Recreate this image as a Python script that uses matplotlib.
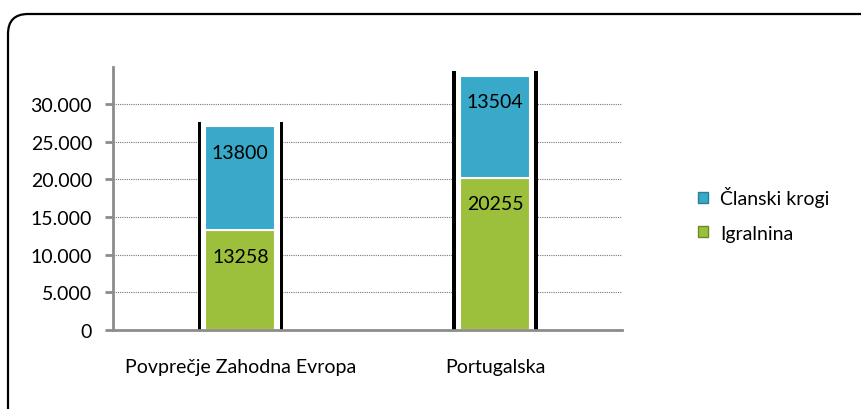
import numpy as np
import matplotlib.pyplot as plt
from matplotlib.patches import FancyBboxPatch, Patch
from matplotlib.ticker import FuncFormatter

plt.rcParams['font.family'] = ['Lato', 'DejaVu Sans']

categories = ['Povprečje Zahodna Evropa', 'Portugalska']
igralnina = [13258, 20255]
clanski = [13800, 13504]
series_names = ['Članski krogi', 'Igralnina']
yticks = [0, 5000, 10000, 15000, 20000, 25000, 30000]

green = '#9DC03C'
blue = '#38A9C8'
gray = '#8C8C8C'

fig = plt.figure(figsize=(8.62, 4.10), dpi=100)
ax = fig.add_axes([0.131, 0.193, 0.591, 0.642])

x = np.arange(len(categories))
totals = np.array(igralnina) + np.array(clanski)

# black side rails behind each bar, white gap, then stacked segments
ax.bar(x, totals + 600, width=0.335, color='black', zorder=2)
ax.bar(x, totals + 600, width=0.31, color='white', zorder=3)
ax.bar(x, igralnina, width=0.275, color=green, edgecolor='white', lw=1.5, zorder=4)
ax.bar(x, clanski, bottom=igralnina, width=0.275, color=blue,
       edgecolor='white', lw=1.5, zorder=4)

for xi, g, c in zip(x, igralnina, clanski):
    ax.annotate(str(g), (xi, g), xytext=(0, -26), textcoords='offset pixels',
                ha='center', va='center', fontsize=14, zorder=5)
    ax.annotate(str(c), (xi, g + c), xytext=(0, -26), textcoords='offset pixels',
                ha='center', va='center', fontsize=14, zorder=5)

ax.set_xlim(-0.5, 1.5)
ax.set_ylim(0, 35000)
ax.set_yticks(yticks)
ax.yaxis.set_major_formatter(FuncFormatter(lambda v, p: f'{int(v):,}'.replace(',', '.')))
ax.set_xticks(x)
ax.set_xticklabels(categories)
ax.tick_params(axis='y', length=6, width=2, color=gray, labelsize=14, pad=9)
ax.tick_params(axis='x', length=0, labelsize=14, pad=20)
ax.grid(axis='y', ls=(0, (1, 1)), color='#777777', lw=0.8, zorder=0)
for s in ['top', 'right']:
    ax.spines[s].set_visible(False)
for s in ['left', 'bottom']:
    ax.spines[s].set_color(gray)
    ax.spines[s].set_linewidth(2)
ax.spines['bottom'].set_zorder(6)

handles = [Patch(facecolor=blue, edgecolor='#2A7F98'),
           Patch(facecolor=green, edgecolor='#6E8A25')]
fig.legend(handles, series_names, loc='center left', bbox_to_anchor=(0.79, 0.476),
           frameon=False, fontsize=14, handlelength=0.5, handleheight=0.5,
           handletextpad=0.6, labelspacing=0.9)

# rounded frame, cut off by the right and bottom image edges
frame = FancyBboxPatch((0.08, -0.2), 9.0, 4.15, transform=fig.dpi_scale_trans,
                       boxstyle='round,pad=0,rounding_size=0.2',
                       fill=False, ec='black', lw=1.6)
fig.patches.append(frame)

fig.savefig('out.png', dpi=100)
